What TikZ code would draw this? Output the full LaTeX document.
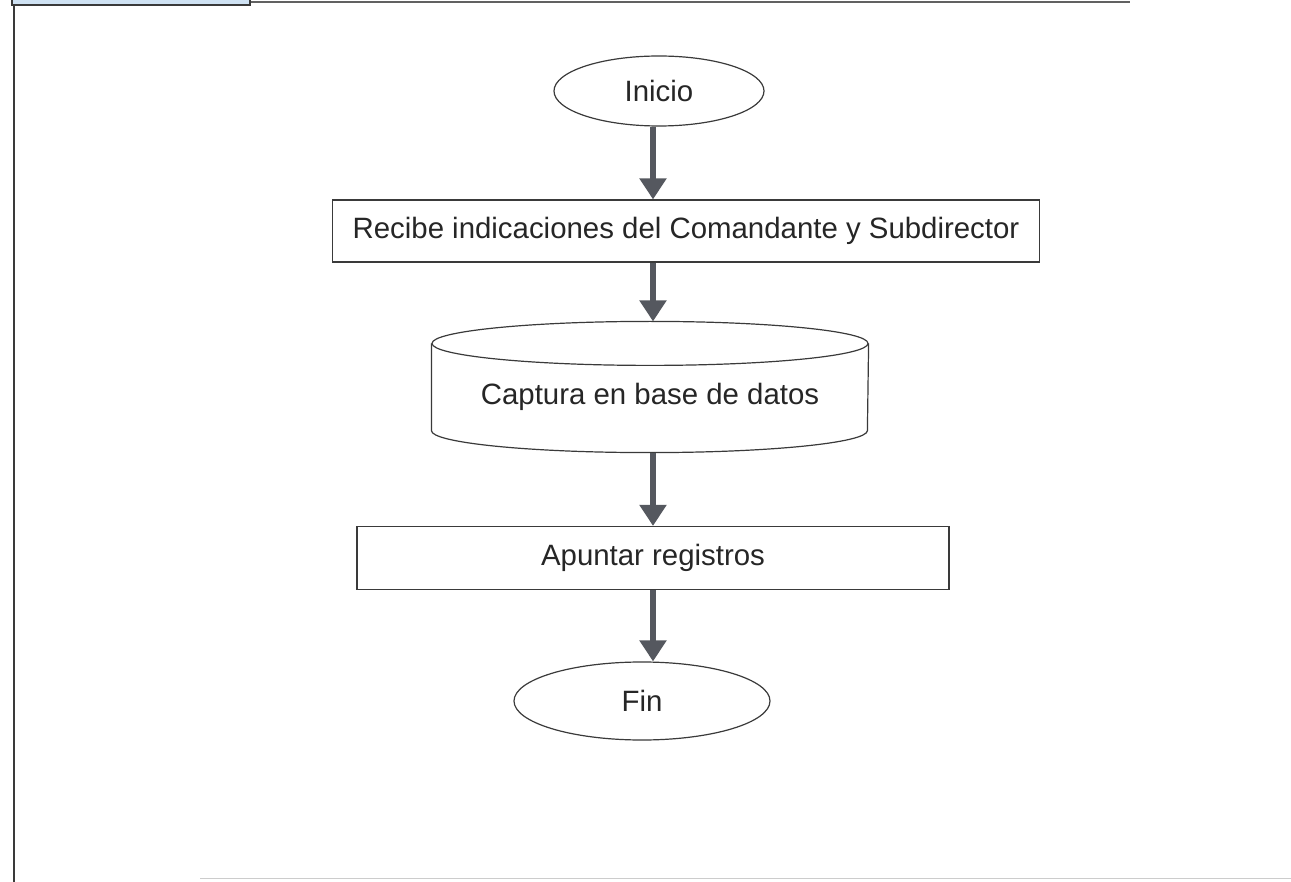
\documentclass[tikz,border=0pt]{standalone}
\usepackage{fontspec}
\setmainfont{Liberation Sans}
\usetikzlibrary{arrows.meta,positioning,shapes.geometric,calc}
\definecolor{arrowgray}{HTML}{55585F}
\definecolor{edgegray}{HTML}{3A3A3A}
\definecolor{tabblue}{HTML}{CFE2F3}
\begin{document}
\begin{tikzpicture}[x=1pt,y=-1pt,
  b/.style={draw=edgegray,line width=1.2pt,font=\fontsize{29.4}{34}\selectfont,text=black!85,inner sep=0pt},
  term/.style={b,ellipse},
  proc/.style={b,rectangle},
  db/.style={b,draw=none},
  flow/.style={draw=arrowgray,line width=5.5pt,-{Triangle[width=26pt,length=21pt]}}]
\useasboundingbox (0,0) rectangle (1291,882);
% frame of the scanned page
\fill[white] (0,0) rectangle (1291,882);
\draw[edgegray,line width=2pt] (14,0) -- (14,882);
\draw[edgegray!80,line width=1.5pt] (250,2) -- (1130,2);
\draw[edgegray,line width=1.5pt,fill=tabblue] (12,-4) rectangle (250,5);
\draw[black!20,line width=1pt] (200,878) -- (1291,878);
% flow chart
\node[term,minimum width=210,minimum height=70] (ini) at (659,91) {Inicio};
\node[proc,minimum width=707,minimum height=62] (rec) at (686,231) {Recibe indicaciones del Comandante y Subdirector};
\node[db,minimum width=436,minimum height=130] (cap) at (650,387) {\raisebox{-18pt}[0pt][0pt]{Captura en base de datos}};
\node[proc,minimum width=592,minimum height=63] (apu) at (653,558) {Apuntar registros};
\node[term,minimum width=256,minimum height=78] (fin) at (642,701) {Fin};
% database drum
\draw[edgegray,line width=1.2pt] ($(cap.north)+(0,22)$) ellipse [x radius=218pt,y radius=22pt];
\draw[edgegray,line width=1.2pt] ($(cap.north west)+(0,22)$) -- ($(cap.south west)+(0,-22)$)
  arc[start angle=180,end angle=360,x radius=218pt,y radius=22pt] -- ($(cap.north east)+(0,22)$);
\coordinate (axis) at (653,0);
\draw[flow] (ini.south -| axis) -- (rec.north -| axis);
\draw[flow] (rec.south -| axis) -- (cap.north -| axis);
\draw[flow] (cap.south -| axis) -- (apu.north -| axis);
\draw[flow] (apu.south -| axis) -- (fin.north -| axis);
\end{tikzpicture}
\end{document}
